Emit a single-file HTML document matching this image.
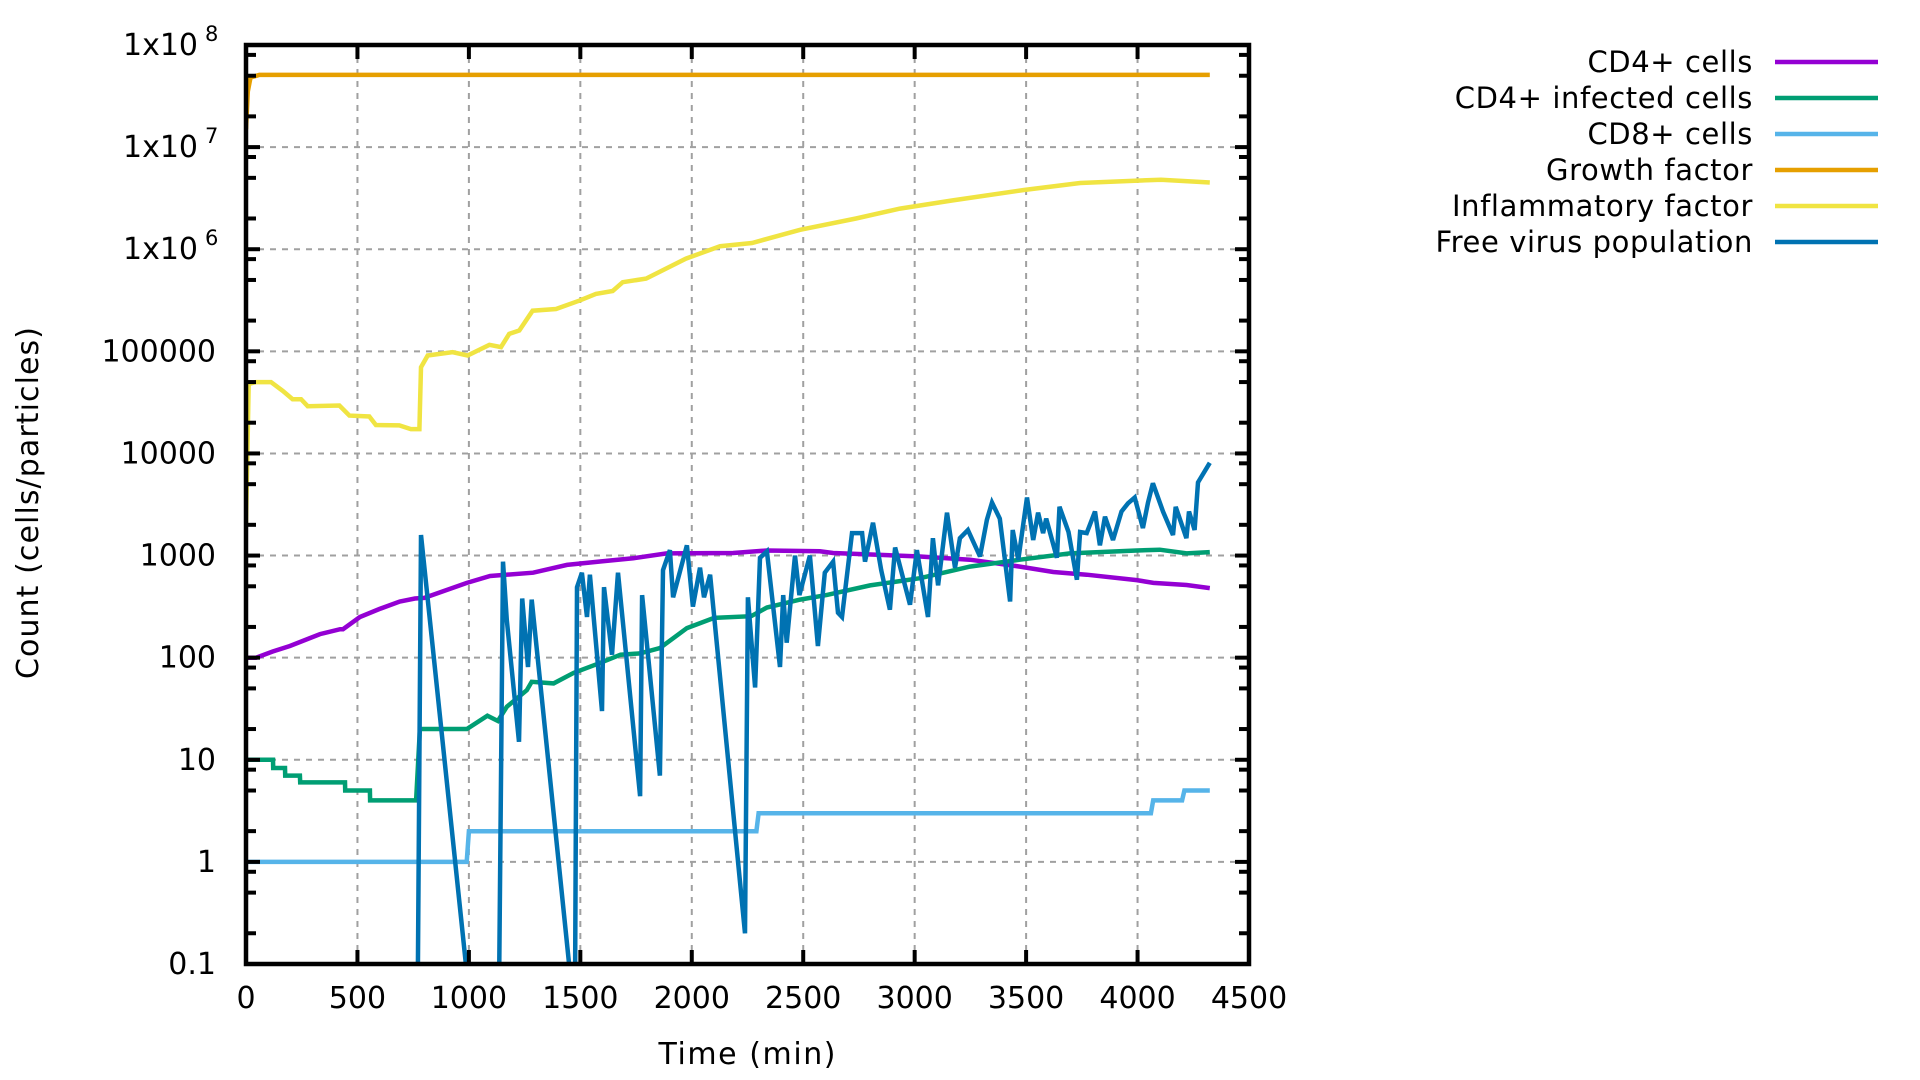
<!DOCTYPE html>
<html><head><meta charset="utf-8"><title>Cell counts over time</title>
<style>
html,body{margin:0;padding:0;background:#fff;width:1920px;height:1080px;overflow:hidden}
svg{display:block;font-family:"DejaVu Sans","Liberation Sans",sans-serif}
</style></head>
<body>
<svg id="chart" width="1920" height="1080" viewBox="0 0 1920 1080" xmlns="http://www.w3.org/2000/svg">
<defs><clipPath id="plotclip"><rect x="246" y="45" width="1003" height="919"/></clipPath></defs>
<g id="grid"></g>
<g id="series" clip-path="url(#plotclip)"></g>
<g id="axes"></g>
<g id="legend"></g>
<text x="747" y="1064" text-anchor="middle" font-size="30" textLength="177">Time (min)</text>
<text transform="translate(38,503) rotate(-90)" text-anchor="middle" font-size="30" textLength="352">Count (cells/particles)</text>
</svg>
<script>
// ---- data ----
const xTicks = [0,500,1000,1500,2000,2500,3000,3500,4000,4500];
const yTickExps = [-1,0,1,2,3,4,5,6,7,8];
const yTickLabels = ["0.1","1","10","100","1000","10000","100000","1x10|6","1x10|7","1x10|8"];
const seriesNames = ["CD4+ cells","CD4+ infected cells","CD8+ cells","Growth factor","Inflammatory factor","Free virus population"];
const seriesColors = ["#9400d3","#009e73","#56b4e9","#e69f00","#f0e442","#0072b2"];

const cd4T = [0,45,120,197,332,422,435,511,600,690,758,800,991,1095,1288,1440,1600,1737,1887,2186,2337,2575,2634,3024,3248,3472,3622,3772,3996,4071,4220,4324];
const cd4V = [100,100,115,130,170,190,190,250,300,355,380,385,540,630,680,810,880,940,1050,1060,1120,1100,1060,980,910,780,690,650,575,540,515,480];

const infT = [0,121,122,175,176,242,243,444,445,556,557,763,780,991,1083,1130,1170,1260,1282,1380,1470,1590,1680,1768,1857,1978,2100,2266,2337,2486,2604,2800,3024,3248,3472,3696,3996,4100,4220,4324];
const infV = [10,10,8.3,8.3,7,7,6,6,5,5,4,4,20,20,27,24,33,48,58,56,71,89,107,110,124,195,245,255,310,370,410,510,600,780,910,1050,1120,1140,1050,1080];

const cd8T = [0,990,1000,2290,2300,4060,4070,4200,4210,4324];
const cd8V = [1,1,2,2,3,3,4,4,5,5];

const gfT = [0,8,20,60,4324];
const gfV = [1.5e7,3.5e7,4.8e7,5.1e7,5.1e7];

const infFT = [0,12,45,112,165,209,247,277,419,464,553,583,688,740,778,785,815,927,994,1092,1144,1181,1226,1286,1391,1495,1570,1645,1690,1795,1974,2127,2270,2486,2737,2934,3167,3490,3742,4105,4285,4324];
const infFV = [2000,48000,50000,50000,41000,34000,34000,29000,29500,23500,23000,19000,18800,17300,17300,70000,91000,98000,91000,116000,110000,148000,160000,250000,260000,313000,365000,390000,475000,515000,810000,1070000,1150000,1550000,2000000,2500000,3000000,3800000,4450000,4800000,4550000,4500000];

const virT = [768,785,991,1135,1153,1170,1225,1239,1265,1282,1454,1476,1485,1507,1530,1543,1597,1606,1642,1669,1768,1777,1857,1871,1902,1916,1978,2005,2037,2055,2082,2239,2252,2284,2306,2337,2396,2410,2426,2463,2483,2530,2566,2597,2634,2656,2674,2719,2764,2777,2813,2850,2889,2912,2979,3010,3060,3082,3105,3145,3181,3203,3239,3293,3324,3347,3382,3428,3440,3465,3504,3532,3554,3576,3590,3638,3650,3690,3728,3742,3772,3809,3831,3854,3890,3928,3957,3987,4024,4047,4069,4114,4159,4171,4219,4231,4256,4271,4324];
const virV = [0.01,1590,0.08,0.05,870,234,15,380,81,370,0.08,0.05,490,680,250,650,30,490,107,680,4.4,410,7,720,1130,390,1260,316,760,390,650,0.2,390,51,950,1100,81,410,140,1000,410,1000,130,680,870,275,250,1660,1660,870,2100,720,295,1200,330,1130,250,1480,510,2630,760,1480,1780,980,2240,3300,2300,355,1780,910,3700,1420,2630,1660,2300,950,3000,1700,580,1700,1660,2700,1260,2400,1420,2700,3250,3700,1860,3300,5100,2700,1590,3000,1480,2700,1780,5200,8100];

// ---- scales ----
const PL=246, PR=1249, PT=45, PB=964;
function xs(t){ return PL + t/4500*(PR-PL); }
function ys(v){ return PB - (Math.log10(v)+1)/9*(PB-PT); }
const NS="http://www.w3.org/2000/svg";
function mk(tag, attrs, parent){ const e=document.createElementNS(NS,tag); for(const k in attrs) e.setAttribute(k,attrs[k]); parent.appendChild(e); return e; }

const grid=document.getElementById('grid'), axes=document.getElementById('axes'), series=document.getElementById('series'), legend=document.getElementById('legend');

// grid
xTicks.forEach(t=>{ if(t>0&&t<4500){ const l=mk('line',{x1:xs(t),x2:xs(t),y1:PT,y2:PB,stroke:'#a0a0a0','stroke-width':2,'stroke-dasharray':'6,6'},grid);

 }});
yTickExps.forEach(e=>{ if(e>-1&&e<8){ const y=ys(Math.pow(10,e)); const l=mk('line',{x1:PL,x2:PR,y1:y,y2:y,stroke:'#a0a0a0','stroke-width':2,'stroke-dasharray':'6,6'},grid);

 }});

// series
const all=[[cd4T,cd4V],[infT,infV],[cd8T,cd8V],[gfT,gfV],[infFT,infFV],[virT,virV]];
const snames=['cd4-line','cd4-infected-line','cd8-line','growth-factor-line','inflammatory-factor-line','free-virus-line'];
all.forEach((s,i)=>{
  const pts=s[0].map((t,j)=>xs(t).toFixed(1)+','+ys(s[1][j]).toFixed(1)).join(' ');
  const p=mk('polyline',{points:pts,fill:'none',stroke:seriesColors[i],'stroke-width':4.5,'stroke-linejoin':'miter','stroke-miterlimit':3},series);
  
  
});

// ticks
yTickExps.forEach(e=>{
  for(const m of [1,2,5,8]){
    const v=m*Math.pow(10,e); if(v>1e8*1.0001) continue;
    const y=ys(v), len=m===1?14:10;
    const a=mk('line',{x1:PL,x2:PL+len,y1:y,y2:y,stroke:'#000','stroke-width':4},axes);
    
    
    const b=mk('line',{x1:PR,x2:PR-len,y1:y,y2:y,stroke:'#000','stroke-width':4},axes);
    
    
  }
});
xTicks.forEach(t=>{
  const x=xs(t);
  const a=mk('line',{x1:x,x2:x,y1:PB,y2:PB-14,stroke:'#000','stroke-width':4},axes);
  
  
  const b=mk('line',{x1:x,x2:x,y1:PT,y2:PT+14,stroke:'#000','stroke-width':4},axes);
  
  
  const tx=mk('text',{x:x,y:1008,'text-anchor':'middle','font-size':30},axes);
  tx.textContent=String(t);
  
  
});
yTickLabels.forEach((lab,i)=>{
  const y=ys(Math.pow(10,yTickExps[i]));
  const tx=mk('text',{x:216,y:y+10,'text-anchor':'end','font-size':30},axes);
  
  
  if(lab.indexOf('|')>=0){
    const parts=lab.split('|');
    tx.setAttribute('x',198);
    tx.textContent=parts[0];
    const sup=mk('text',{x:205,y:y-4,'font-size':21},axes);
    sup.textContent=parts[1];
    
    
  } else tx.textContent=lab;
});
const frame=mk('rect',{x:PL,y:PT,width:PR-PL,height:PB-PT,fill:'none',stroke:'#000','stroke-width':4.5},axes);



// legend
seriesNames.forEach((n,i)=>{
  const y=62+i*36;
  const t=mk('text',{x:1753,y:y+10,'text-anchor':'end','font-size':29,'letter-spacing':'0.6'},legend);
  t.textContent=n;
  
  
  const l=mk('line',{x1:1775,x2:1878,y1:y,y2:y,stroke:seriesColors[i],'stroke-width':4.5},legend);
  
  
});
</script>
</body></html>
